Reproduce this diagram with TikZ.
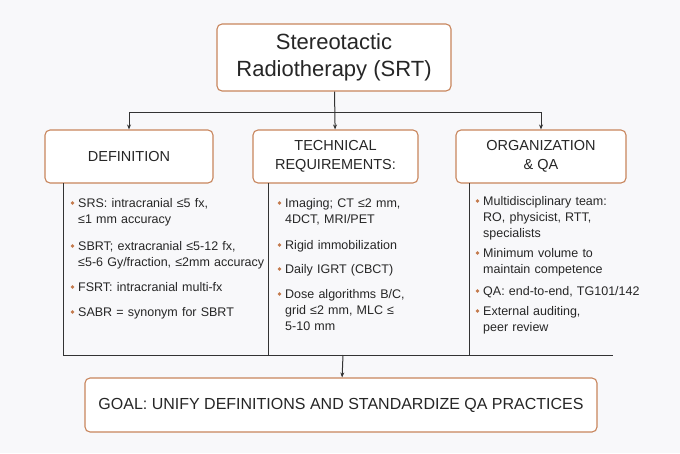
\documentclass[tikz,border=0pt]{standalone}
\usepackage{fontspec}
\setmainfont{Liberation Sans}
\usetikzlibrary{arrows.meta}

\definecolor{boxline}{HTML}{C8855C}
\definecolor{dotc}{HTML}{C47A4C}
\definecolor{txt}{HTML}{262626}
\definecolor{wire}{HTML}{333333}
\definecolor{bg}{HTML}{F8F8FA}

\begin{document}
\begin{tikzpicture}[x=1pt,y=-1pt,
  box/.style={draw=boxline, fill=white, line width=1.1pt, rounded corners=5pt, align=center, text=txt},
  item/.style={anchor=base west, text width=#1, align=left, inner sep=0pt, text=txt,
    font=\fontsize{12.5}{16}\selectfont},
  item/.default=175pt,
  wire/.style={draw=wire, line width=1pt},
  arr/.style={wire, -{Stealth[length=5pt,width=4pt]}}]
\useasboundingbox[fill=bg] (0,0) rectangle (680,453);

% top and column heads
\node[box, minimum width=234pt, minimum height=67pt, font=\fontsize{22}{27}\selectfont] (title) at (334,57.5) {Stereotactic\\Radiotherapy (SRT)};
\node[box, minimum width=168pt, minimum height=53pt, font=\fontsize{14.5}{19}\selectfont] (defn) at (129,156.5) {DEFINITION};
\node[box, minimum width=165pt, minimum height=53pt, font=\fontsize{14.5}{19}\selectfont] (tech) at (335.5,156.5) {TECHNICAL\\REQUIREMENTS:};
\node[box, minimum width=170pt, minimum height=53pt, font=\fontsize{14.5}{19}\selectfont] (orga) at (541,156.5) {ORGANIZATION\\\& QA};
\node[box, minimum width=512pt, minimum height=54pt, font=\fontsize{16}{19}\selectfont] (goal) at (341,405) {GOAL: UNIFY DEFINITIONS AND STANDARDIZE QA PRACTICES};

\coordinate (split) at (335.5,112);
\coordinate (splitL) at (129,112);
\coordinate (splitR) at (541,112);
\path[wire] (splitL) -- (splitR);
\path[arr] (title) -- (tech);
\path[arr] (splitL) -- (defn);
\path[arr] (splitR) -- (orga);

% frame under the columns
\coordinate (c1) at (63,355);
\coordinate (c2) at (268,355);
\coordinate (c3) at (469,355);
\coordinate (c4) at (613,355);
\coordinate (join) at (343,355);
\path[wire] (63,183) -- (c1) -- (c4);
\path[wire] (268,183) -- (c2);
\path[wire] (469,183) -- (c3);
\path[arr] (join) -- (goal);

% definition
\node[item=210pt] (d1) at (78,207) {SRS: intracranial ≤5 fx,\\≤1 mm accuracy};
\node[item=210pt] (d2) at (78,250) {SBRT; extracranial ≤5-12 fx,\\≤5-6 Gy/fraction, ≤2mm accuracy};
\node[item=210pt] (d3) at (78,291) {FSRT: intracranial multi-fx};
\node[item=210pt] (d4) at (78,316) {SABR = synonym for SBRT};

% technical
\node[item] (t1) at (285,207) {Imaging; CT ≤2 mm,\\4DCT, MRI/PET};
\node[item] (t2) at (285,249) {Rigid immobilization};
\node[item] (t3) at (285,273) {Daily IGRT (CBCT)};
\node[item] (t4) at (285,298) {Dose algorithms B/C,\\grid ≤2 mm, MLC ≤\\5-10 mm};

% organization
\node[item] (o1) at (483,205) {Multidisciplinary team:\\RO, physicist, RTT,\\specialists};
\node[item] (o2) at (483,257) {Minimum volume to\\maintain competence};
\node[item] (o3) at (483,295) {QA: end-to-end, TG101/142};
\node[item] (o4) at (483,315) {External auditing,\\peer review};

\foreach \n in {d1,d2,d3,d4,t1,t2,t3,t4,o1,o2,o3,o4}
  \fill[dotc] ([shift={(-5.5,-4)}]\n.base west) circle (1.8pt);
\end{tikzpicture}
\end{document}
